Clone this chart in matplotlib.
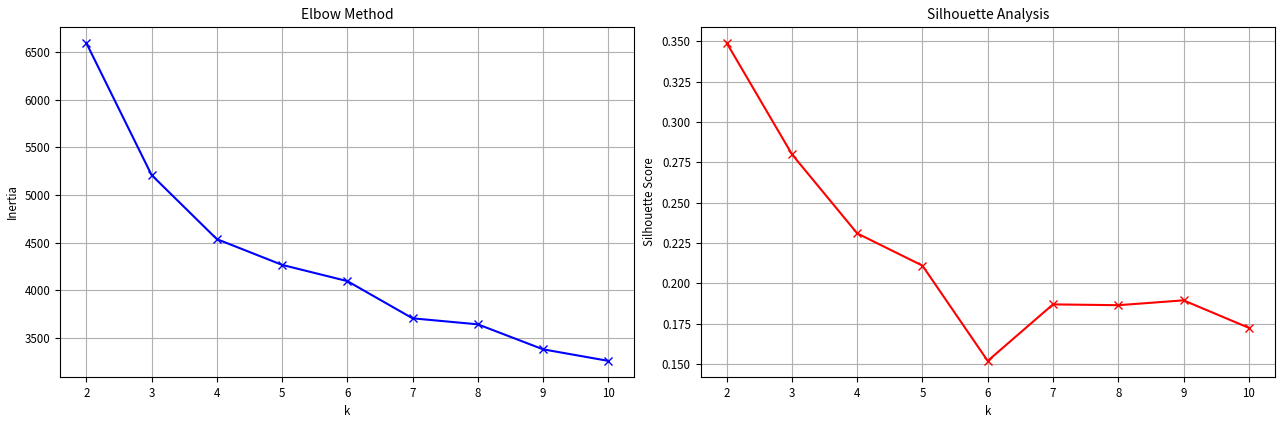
import numpy as np
import matplotlib
matplotlib.use('Agg')
import matplotlib.pyplot as plt

plt.rcParams['font.family'] = ['Noto Sans CJK KR', 'DejaVu Sans']
plt.rcParams['font.size'] = 8.3
plt.rcParams['axes.unicode_minus'] = False

# k values and scores
k_values = [2, 3, 4, 5, 6, 7, 8, 9, 10]
inertia = [6594, 5210, 4538, 4268, 4098, 3708, 3645, 3383, 3262]
silhouette = [0.349, 0.280, 0.231, 0.211, 0.152, 0.187, 0.1865, 0.1895, 0.1725]

fig, (ax1, ax2) = plt.subplots(1, 2, figsize=(12.8, 4.21), dpi=100)
fig.subplots_adjust(left=0.047, right=0.996, top=0.936, bottom=0.105, wspace=0.115)

ax1.plot(k_values, inertia, 'bx-')
ax1.set_xlabel('k')
ax1.set_ylabel('Inertia')
ax1.set_title('Elbow Method')
ax1.grid(True)

ax2.plot(k_values, silhouette, 'rx-')
ax2.set_xlabel('k')
ax2.set_ylabel('Silhouette Score')
ax2.set_title('Silhouette Analysis')
ax2.grid(True)

plt.savefig('out.png')
